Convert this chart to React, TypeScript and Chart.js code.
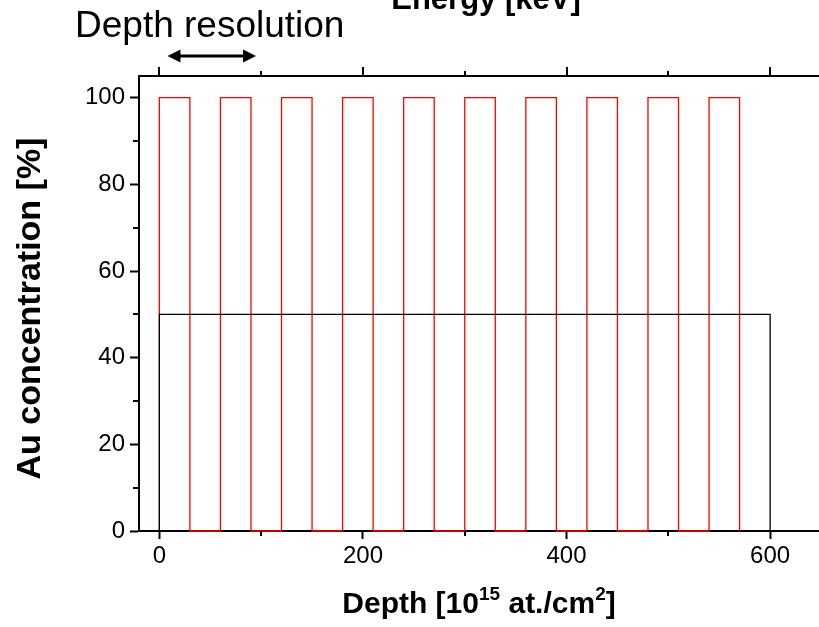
import React, { useEffect, useRef } from "react";
import { Chart, registerables } from "chart.js";

Chart.register(...registerables);

// ---- data ----
const redDepth = [
  0, 0, 30, 30, 60, 60, 90, 90, 120, 120, 150, 150, 180, 180, 210, 210,
  240, 240, 270, 270, 300, 300, 330, 330, 360, 360, 390, 390, 420, 420,
  450, 450, 480, 480, 510, 510, 540, 540, 570, 570,
];
const redConc = [
  0, 100, 100, 0, 0, 100, 100, 0, 0, 100, 100, 0, 0, 100, 100, 0,
  0, 100, 100, 0, 0, 100, 100, 0, 0, 100, 100, 0, 0, 100, 100, 0,
  0, 100, 100, 0, 0, 100, 100, 0,
];
const blackDepth = [0, 0, 600, 600];
const blackConc = [0, 50, 50, 0];

const xRange = [-20, 648];
const yRange = [0, 105];
const xMajorTicks = [0, 200, 400, 600];
const xMinorTicks = [100, 300, 500];
const yMajorTicks = [0, 20, 40, 60, 80, 100];
const yMinorTicks = [10, 30, 50, 70, 90];
const arrowSpan = [8, 95];

const yTitle = "Au concentration [%]";
const topTitle = "Energy [keV]";
const annotationText = "Depth resolution";
const xTitleParts = [
  { t: "Depth [10", sup: false },
  { t: "15", sup: true },
  { t: " at./cm", sup: false },
  { t: "2", sup: true },
  { t: "]", sup: false },
];

const FONT = "'Liberation Sans', Arial, Helvetica, sans-serif";

const decorPlugin = {
  id: "decor",
  afterDraw(chart: any) {
    const ctx = chart.ctx as CanvasRenderingContext2D;
    const xs = chart.scales.x;
    const ys = chart.scales.y;
    const a = chart.chartArea;
    ctx.save();
    ctx.strokeStyle = "#000";
    ctx.fillStyle = "#000";
    ctx.lineWidth = 2;

    // top axis line
    ctx.beginPath();
    ctx.moveTo(a.left - 1, a.top);
    ctx.lineTo(a.right, a.top);
    ctx.stroke();

    // top axis ticks
    xMajorTicks.forEach((v) => {
      const px = Math.round(xs.getPixelForValue(v));
      ctx.beginPath();
      ctx.moveTo(px, a.top);
      ctx.lineTo(px, a.top - 9);
      ctx.stroke();
    });
    xMinorTicks.forEach((v) => {
      const px = Math.round(xs.getPixelForValue(v));
      ctx.beginPath();
      ctx.moveTo(px, a.top);
      ctx.lineTo(px, a.top - 5);
      ctx.stroke();
    });
    // bottom minor ticks
    xMinorTicks.forEach((v) => {
      const px = Math.round(xs.getPixelForValue(v));
      ctx.beginPath();
      ctx.moveTo(px, a.bottom);
      ctx.lineTo(px, a.bottom + 5);
      ctx.stroke();
    });
    // left minor ticks
    yMinorTicks.forEach((v) => {
      const py = Math.round(ys.getPixelForValue(v));
      ctx.beginPath();
      ctx.moveTo(a.left, py);
      ctx.lineTo(a.left - 6, py);
      ctx.stroke();
    });

    // arrow
    const ax0 = xs.getPixelForValue(arrowSpan[0]);
    const ax1 = xs.getPixelForValue(arrowSpan[1]);
    const ay = 56;
    const head = 13;
    const hh = 6.5;
    ctx.lineWidth = 3;
    ctx.beginPath();
    ctx.moveTo(ax0 + head - 2, ay);
    ctx.lineTo(ax1 - head + 2, ay);
    ctx.stroke();
    ctx.beginPath();
    ctx.moveTo(ax0, ay);
    ctx.lineTo(ax0 + head, ay - hh);
    ctx.lineTo(ax0 + head, ay + hh);
    ctx.closePath();
    ctx.fill();
    ctx.beginPath();
    ctx.moveTo(ax1, ay);
    ctx.lineTo(ax1 - head, ay - hh);
    ctx.lineTo(ax1 - head, ay + hh);
    ctx.closePath();
    ctx.fill();

    // annotation text
    ctx.textBaseline = "alphabetic";
    ctx.textAlign = "left";
    ctx.font = `37px ${FONT}`;
    ctx.fillText(annotationText, 75, 37);

    // top title
    ctx.textAlign = "center";
    ctx.font = `bold 31px ${FONT}`;
    ctx.fillText(topTitle, 486, 9);

    // x title with superscripts
    ctx.textAlign = "left";
    const mainFont = `bold 30px ${FONT}`;
    const supFont = `bold 19px ${FONT}`;
    let total = 0;
    xTitleParts.forEach((p) => {
      ctx.font = p.sup ? supFont : mainFont;
      total += ctx.measureText(p.t).width;
    });
    let cx = (a.left + a.right) / 2 - total / 2;
    const base = 613;
    xTitleParts.forEach((p) => {
      ctx.font = p.sup ? supFont : mainFont;
      ctx.fillText(p.t, cx, p.sup ? base - 13 : base);
      cx += ctx.measureText(p.t).width;
    });

    // y title
    ctx.save();
    ctx.translate(31, (a.top + a.bottom) / 2 + 5);
    ctx.rotate(-Math.PI / 2);
    ctx.textAlign = "center";
    ctx.textBaseline = "middle";
    ctx.font = `bold 34px ${FONT}`;
    ctx.fillText(yTitle, 0, 0);
    ctx.restore();

    ctx.restore();
  },
};

export default function App() {
  const ref = useRef<HTMLCanvasElement | null>(null);
  useEffect(() => {
    if (!ref.current) return;
    const chart = new Chart(ref.current, {
      type: "scatter",
      data: {
        datasets: [
          {
            data: blackDepth.map((x, i) => ({ x, y: blackConc[i] })),
            borderColor: "#000000",
            borderWidth: 1.3,
            showLine: true,
            pointRadius: 0,
            tension: 0,
            clip: false,
          } as any,
          {
            data: redDepth.map((x, i) => ({ x, y: redConc[i] })),
            borderColor: "#ff0000",
            borderWidth: 1.3,
            showLine: true,
            pointRadius: 0,
            tension: 0,
            clip: false,
          } as any,
        ],
      },
      options: {
        responsive: false,
        animation: false,
        devicePixelRatio: 1,
        layout: { padding: { top: 76, left: 0, right: 0, bottom: 0 } },
        plugins: {
          legend: { display: false },
          tooltip: { enabled: false },
          title: { display: false },
        },
        scales: {
          x: {
            type: "linear",
            position: "bottom",
            min: xRange[0],
            max: xRange[1],
            afterFit: (s: any) => {
              s.height = 96;
            },
            afterBuildTicks: (s: any) => {
              s.ticks = xMajorTicks.map((v) => ({ value: v }));
            },
            grid: {
              drawOnChartArea: false,
              drawTicks: true,
              tickLength: 8,
              tickWidth: 2,
              tickColor: "#000",
            },
            border: { display: true, color: "#000", width: 2 },
            ticks: {
              color: "#000",
              padding: 3,
              maxRotation: 0,
              font: { family: FONT, size: 24 },
            },
          },
          y: {
            type: "linear",
            position: "left",
            min: yRange[0],
            max: yRange[1],
            afterFit: (s: any) => {
              s.width = 139;
            },
            afterBuildTicks: (s: any) => {
              s.ticks = yMajorTicks.map((v) => ({ value: v }));
            },
            grid: {
              drawOnChartArea: false,
              drawTicks: true,
              tickLength: 9,
              tickWidth: 2,
              tickColor: "#000",
            },
            border: { display: true, color: "#000", width: 2 },
            ticks: {
              color: "#000",
              padding: 5,
              font: { family: FONT, size: 24 },
            },
          },
        },
      },
      plugins: [decorPlugin],
    });
    return () => chart.destroy();
  }, []);
  return (
    <div style={{ position: "fixed", left: 0, top: 0, width: 819, height: 627, background: "#fff" }}>
      <canvas ref={ref} width={819} height={627} style={{ width: 819, height: 627, display: "block" }} />
    </div>
  );
}
